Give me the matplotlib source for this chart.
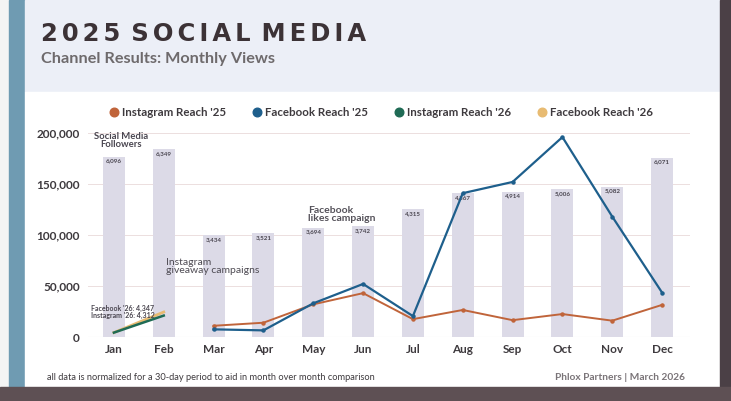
import matplotlib.pyplot as plt
import matplotlib.patches as mpatches
from matplotlib.lines import Line2D
import numpy as np

months = ['Jan', 'Feb', 'Mar', 'Apr', 'May', 'Jun', 'Jul', 'Aug', 'Sep', 'Oct', 'Nov', 'Dec']
followers = [6096, 6349, 3434, 3521, 3694, 3742, 4315, 4867, 4914, 5006, 5082, 6071]
follower_labels = ['6,096', '6,349', '3,434', '3,521', '3,694', '3,742', '4,315',
                   '4,867', '4,914', '5,006', '5,082', '6,071']
insta_25 = [None, None, 11000, 14000, 32000, 43000, 17500, 26500, 16500, 22500, 16000, 31500]
fb_25 = [None, None, 7500, 6500, 33000, 52000, 20500, 141000, 152000, 196000, 118000, 43500]
insta_26 = [4312, 21000]
fb_26 = [4347, 24500]
y_ticks = [0, 50000, 100000, 150000, 200000]

c_insta25 = '#c0643a'
c_fb25 = '#1e5f8c'
c_insta26 = '#1f6b55'
c_fb26 = '#e8bb72'
c_text = '#3e3a3e'

W, H = 731, 401
fig = plt.figure(figsize=(W / 100, H / 100), dpi=100)
fig.patch.set_facecolor('white')


def px_rect(x0, y0, x1, y1, color):
    # rectangle in pixel coords (y measured from top)
    fig.patches.append(mpatches.Rectangle((x0 / W, 1 - y1 / H), (x1 - x0) / W, (y1 - y0) / H,
                                          transform=fig.transFigure, color=color, zorder=-10))


# page framing
px_rect(0, 0, W, H, '#f4f4f4')
px_rect(9, 0, 25, 395, '#6f9bb2')
px_rect(25, 0, 720, 92, '#eceff7')
px_rect(25, 92, 720, 387, '#ffffff')
px_rect(720, 0, W, H, '#4b4046')
px_rect(0, 387, W, H, '#5e5054')

# titles (letter spaced)
gap = '\u2006'
title = (gap.join('2025') + ' \u200a' + gap.join('SOCIAL') + ' \u200a' + gap.join('MEDIA'))
fig.text(41 / W, 1 - 34 / H, title, fontsize=17.5, fontweight='bold', color='#3c3236',
         va='center', ha='left', family='DejaVu Sans')
fig.text(41 / W, 1 - 59 / H, 'Channel Results: Monthly Views', fontsize=11.7,
         color='#6e6a6c', va='center', ha='left', family='Lato', fontweight='bold')

# main axes
ax = fig.add_axes([88 / W, 1 - 337 / H, 602 / W, 204 / H])
ax.set_xlim(-0.52, 11.56)
ax.set_ylim(0, 200000)
ax.set_facecolor('none')
for s in ax.spines.values():
    s.set_visible(False)
ax.set_yticks(y_ticks)
ax.set_yticklabels([f'{v:,}' for v in y_ticks])
ax.set_xticks(range(len(months)))
ax.set_xticklabels(months)
ax.tick_params(length=0, labelsize=8.5, labelcolor=c_text)
ax.tick_params(axis='y', pad=6)
ax.tick_params(axis='x', pad=5)
for lab in ax.get_xticklabels() + ax.get_yticklabels():
    lab.set_fontweight('bold')
    lab.set_family('Lato')
for v in y_ticks:
    ax.axhline(v, color='#ecdede', lw=0.7, zorder=0)
ax.axhline(0, color='#dcdcdc', lw=0.8, zorder=0)

# follower bars on a hidden twin axis
axb = ax.twinx()
axb.set_ylim(0, 6900)
axb.axis('off')
x = np.arange(len(months))
axb.bar(x, followers, width=0.44, color='#dcdae7', zorder=1)
for i, (v, t) in enumerate(zip(followers, follower_labels)):
    axb.text(i, v - 60, t, ha='center', va='top', fontsize=4.5, color='#4a4650',
             fontweight='bold', family='Lato')

# reach lines
axl = ax.twinx()
axl.set_ylim(0, 200000)
axl.axis('off')
xm = x[2:]
axl.plot(xm, insta_25[2:], color=c_insta25, lw=1.4, marker='o', ms=2.2, zorder=3)
axl.plot(xm, fb_25[2:], color=c_fb25, lw=1.6, marker='o', ms=2.2, zorder=4)
axl.plot(x[:2], fb_26, color=c_fb26, lw=2.0, zorder=3)
axl.plot(x[:2], insta_26, color=c_insta26, lw=1.8, zorder=4)

# annotations
axl.text(0.15, 192600, 'Social Media\nFollowers', ha='center', va='center', fontsize=6.8,
         color='#4a4650', fontweight='bold', family='Lato', linespacing=0.95)
axl.text(1.04, 69000, 'Instagram\ngiveaway campaigns', ha='left', va='center', fontsize=7.5,
         color='#4e4b53', family='Lato', linespacing=0.95)
axl.text(3.90, 120000, 'Facebook\nlikes campaign', ha='left', va='center', fontsize=7.5,
         color='#55525a', fontweight='bold', family='Lato', linespacing=0.95)
axl.text(-0.45, 24500, "Facebook '26: 4,347\nInstagram '26: 4,312", ha='left', va='center',
         fontsize=5, color='#4a4650', fontweight='bold', family='Lato', linespacing=0.9)

# legend
handles = [Line2D([], [], marker='o', ls='none', ms=6.2, color=c) for c in
           (c_insta25, c_fb25, c_insta26, c_fb26)]
labels = ["Instagram Reach '25", "Facebook Reach '25", "Instagram Reach '26", "Facebook Reach '26"]
fig.legend(handles, labels, loc='center left', bbox_to_anchor=(97 / W, 1 - 113 / H), ncol=4,
           frameon=False, handletextpad=0.1, columnspacing=2.07, handlelength=1.2,
           prop={'family': 'Lato', 'weight': 'bold', 'size': 8.3}, labelcolor=c_text)

# footer
fig.text(47 / W, 1 - 377 / H, 'all data is normalized for a 30-day period to aid in month over month comparison',
         fontsize=6.65, color=c_text, va='center', ha='left', family='Lato')
fig.text(685 / W, 1 - 377 / H, 'Phlox Partners | March 2026', fontsize=7.3, color='#7a7478',
         va='center', ha='right', family='Lato', fontweight='bold')

fig.savefig('out.png', dpi=100)
